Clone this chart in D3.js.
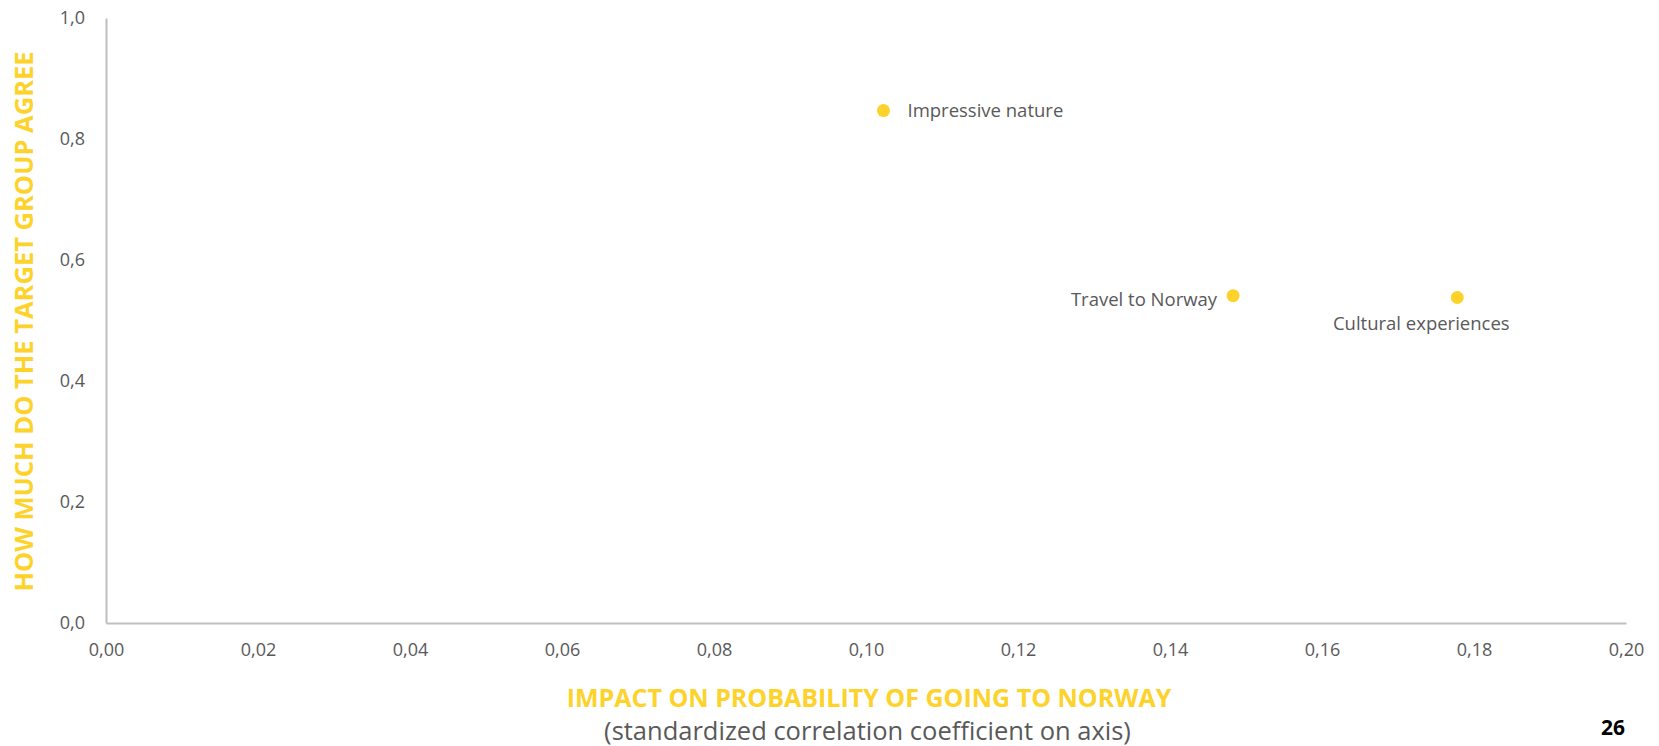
<!DOCTYPE html>
<html>
<head>
<meta charset="utf-8">
<script src="https://cdn.jsdelivr.net/npm/d3@7"></script>
<style>
  html, body { margin: 0; padding: 0; background: #ffffff; }
  svg { display: block; }
  text { font-family: "Open Sans", "Noto Sans", sans-serif; }
</style>
</head>
<body>
<svg id="chart" width="1659" height="746"></svg>
<script>
// Drivers: impact on probability of travel vs. agreement level
const labels = ["Impressive nature", "Travel to Norway", "Cultural experiences"];
const impact = [0.1023, 0.1483, 0.1778];
const agree = [0.847, 0.541, 0.538];
const labelSide = ["right", "left", "below"];

const xTicks = [0, 0.02, 0.04, 0.06, 0.08, 0.10, 0.12, 0.14, 0.16, 0.18, 0.20];
const yTicks = [0, 0.2, 0.4, 0.6, 0.8, 1.0];

const pageNumber = "26";
const yTitle = "HOW MUCH DO THE TARGET GROUP AGREE";
const xTitle = "IMPACT ON PROBABILITY OF GOING TO NORWAY";
const xSubtitle = "(standardized correlation coefficient on axis)";

const yellow = "#FDD32B";
const grey = "#595959";
const axisGrey = "#BFBFBF";

const svg = d3.select("#chart");
const W = 1659, H = 746;
const margin = { left: 106, right: 33, top: 18, bottom: 123 };

const locale = d3.formatLocale({ decimal: ",", thousands: " ", grouping: [3], currency: ["", ""] });
const fx = locale.format(".2f");
const fy = locale.format(".1f");

const x = d3.scaleLinear().domain([0, 0.2]).range([margin.left, W - margin.right]);
const y = d3.scaleLinear().domain([0, 1]).range([H - margin.bottom, margin.top]);

// X axis
const xAxis = svg.append("g")
  .attr("transform", `translate(0,${y(0)})`)
  .call(d3.axisBottom(x).tickValues(xTicks).tickFormat(fx).tickSize(0).tickPadding(20));
xAxis.select(".domain").attr("stroke", axisGrey).attr("stroke-width", 2);
xAxis.selectAll("text").attr("fill", grey).style("font-size", "18px")
  .style("font-family", "'Open Sans', sans-serif");

// Y axis
const yAxis = svg.append("g")
  .attr("transform", `translate(${x(0)},0)`)
  .call(d3.axisLeft(y).tickValues(yTicks).tickFormat(fy).tickSize(0).tickPadding(21));
yAxis.select(".domain").attr("stroke", axisGrey).attr("stroke-width", 2);
yAxis.selectAll("text").attr("fill", grey).style("font-size", "18px")
  .style("font-family", "'Open Sans', sans-serif");

// Points
const pts = labels.map((l, i) => ({ label: l, x: impact[i], y: agree[i], side: labelSide[i] }));
svg.append("g").selectAll("circle").data(pts).join("circle")
  .attr("cx", d => x(d.x)).attr("cy", d => y(d.y)).attr("r", 6.5)
  .attr("fill", yellow);

svg.append("g").selectAll("text").data(pts).join("text")
  .attr("x", d => d.side === "right" ? x(d.x) + 24 : d.side === "left" ? x(d.x) - 16 : x(d.x) - 36)
  .attr("y", d => d.side === "below" ? y(d.y) + 32 : d.side === "left" ? y(d.y) + 10 : y(d.y) + 6.5)
  .attr("text-anchor", d => d.side === "left" ? "end" : d.side === "below" ? "middle" : "start")
  .attr("fill", grey)
  .style("font-size", "18.5px")
  .text(d => d.label);

// Axis titles
svg.append("text")
  .attr("transform", `translate(33,321.5) rotate(-90)`)
  .attr("text-anchor", "middle")
  .attr("fill", yellow).style("font-weight", "bold").style("font-size", "25.5px")
  .text(yTitle);

svg.append("text")
  .attr("x", 869).attr("y", 707)
  .attr("text-anchor", "middle")
  .attr("fill", yellow).style("font-weight", "bold").style("font-size", "25px")
  .text(xTitle);

svg.append("text")
  .attr("x", 867.5).attr("y", 740)
  .attr("text-anchor", "middle")
  .attr("fill", grey).style("font-size", "25.5px")
  .text(xSubtitle);

svg.append("text")
  .attr("x", 1625).attr("y", 735)
  .attr("text-anchor", "end")
  .attr("fill", "#000").style("font-weight", "bold").style("font-size", "21px")
  .text(pageNumber);
</script>
</body>
</html>
